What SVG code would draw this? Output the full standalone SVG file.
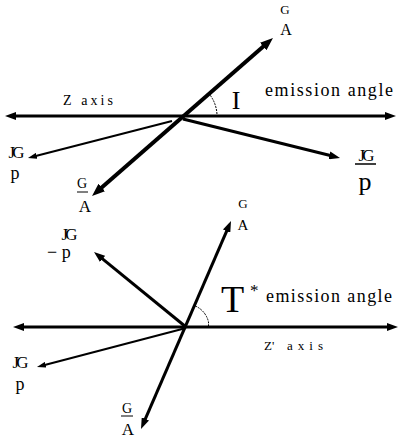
<svg xmlns="http://www.w3.org/2000/svg" width="400" height="444" viewBox="0 0 400 444">
<defs>
<style>
text{font-family:"Liberation Serif","Times New Roman",serif;fill:#000}
.ln{stroke:#000;fill:none}
.arc{stroke:#000;fill:none;stroke-width:1;stroke-dasharray:2 1}
</style>
<marker id="ah" markerUnits="userSpaceOnUse" markerWidth="12" markerHeight="8" refX="2" refY="4" orient="auto-start-reverse"><path d="M0,0 L11,4 L0,8 z" fill="#000"/></marker>
<marker id="big" markerUnits="userSpaceOnUse" markerWidth="14" markerHeight="10" refX="2" refY="5" orient="auto-start-reverse"><path d="M0,0 L13,5 L0,10 z" fill="#000"/></marker>
<marker id="sm" markerUnits="userSpaceOnUse" markerWidth="10" markerHeight="6" refX="1" refY="3" orient="auto-start-reverse"><path d="M0,0 L9,3 L0,6 z" fill="#000"/></marker>
</defs>
<rect width="400" height="444" fill="#fff"/>
<g id="connectors">
<line class="ln" x1="14" y1="116" x2="387" y2="116" stroke-width="3" marker-start="url(#ah)" marker-end="url(#ah)"/>
<line class="ln" x1="100.3" y1="188.8" x2="264.7" y2="45.2" stroke-width="4" marker-start="url(#big)" marker-end="url(#big)"/>
<line class="ln" x1="183" y1="119" x2="331.3" y2="155.8" stroke-width="3" marker-end="url(#ah)"/>
<line class="ln" x1="172" y1="121" x2="35.7" y2="156" stroke-width="2" marker-end="url(#sm)"/>
<path class="arc" d="M208.4,93 A35,35 0 0 1 217,115"/>
<line class="ln" x1="22" y1="327" x2="389" y2="327" stroke-width="3" marker-start="url(#ah)" marker-end="url(#ah)"/>
<line class="ln" x1="144.6" y1="420.7" x2="227.4" y2="229.3" stroke-width="3" marker-start="url(#ah)" marker-end="url(#ah)"/>
<line class="ln" x1="186" y1="327" x2="101" y2="257.7" stroke-width="3" marker-end="url(#ah)"/>
<line class="ln" x1="186" y1="328" x2="44.7" y2="365" stroke-width="2" marker-end="url(#sm)"/>
<path class="arc" d="M195.1,305.9 A23,23 0 0 1 208.5,322 L208.5,326"/>
</g>
<g id="top-labels">
<text x="63" y="105" font-size="14" textLength="50" lengthAdjust="spacing">Z axis</text>
<text x="265" y="96" font-size="18" textLength="128" lengthAdjust="spacing">emission angle</text>
<text x="236" y="109" font-size="26" text-anchor="middle">I</text>
</g>
<g id="top-A-up">
<text x="285" y="14" font-size="13" text-anchor="middle">G</text>
<text x="286" y="35" font-size="16" text-anchor="middle">A</text>
</g>
<g id="top-p-right">
<text x="365" y="161" font-size="17" text-anchor="middle" letter-spacing="-3">JG</text>
<line x1="355" y1="164" x2="376" y2="164" stroke="#000" stroke-width="1.5"/>
<text x="365" y="190" font-size="26" text-anchor="middle">p</text>
</g>
<g id="top-p-left">
<text x="15" y="158" font-size="17" text-anchor="middle" letter-spacing="-3">JG</text>
<text x="15" y="179" font-size="18" text-anchor="middle">p</text>
</g>
<g id="top-A-down">
<text x="82" y="188" font-size="14" text-anchor="middle">G</text>
<line x1="77" y1="192" x2="88" y2="192" stroke="#000" stroke-width="1"/>
<text x="85" y="212" font-size="17" text-anchor="middle">A</text>
</g>
<g id="bottom-labels">
<text x="221" y="312" font-size="38">T</text>
<text x="250" y="296" font-size="17">*</text>
<text x="266" y="302" font-size="18" textLength="126" lengthAdjust="spacing">emission angle</text>
<text x="264" y="350" font-size="13">Z'</text>
<text x="287" y="350" font-size="13" textLength="36" lengthAdjust="spacing">axis</text>
</g>
<g id="bottom-A-up">
<text x="243" y="208" font-size="13" text-anchor="middle">G</text>
<text x="243" y="230" font-size="15" text-anchor="middle">A</text>
</g>
<g id="bottom-minus-p">
<text x="68" y="240" font-size="17" text-anchor="middle" letter-spacing="-3">JG</text>
<text x="47" y="258" font-size="18">− p</text>
</g>
<g id="bottom-p">
<text x="19" y="368" font-size="17" text-anchor="middle" letter-spacing="-3">JG</text>
<text x="20" y="390" font-size="18" text-anchor="middle">p</text>
</g>
<g id="bottom-A-down">
<text x="127" y="413" font-size="14" text-anchor="middle">G</text>
<line x1="121" y1="416" x2="133" y2="416" stroke="#000" stroke-width="1"/>
<text x="128" y="435" font-size="17" text-anchor="middle">A</text>
</g>
</svg>
